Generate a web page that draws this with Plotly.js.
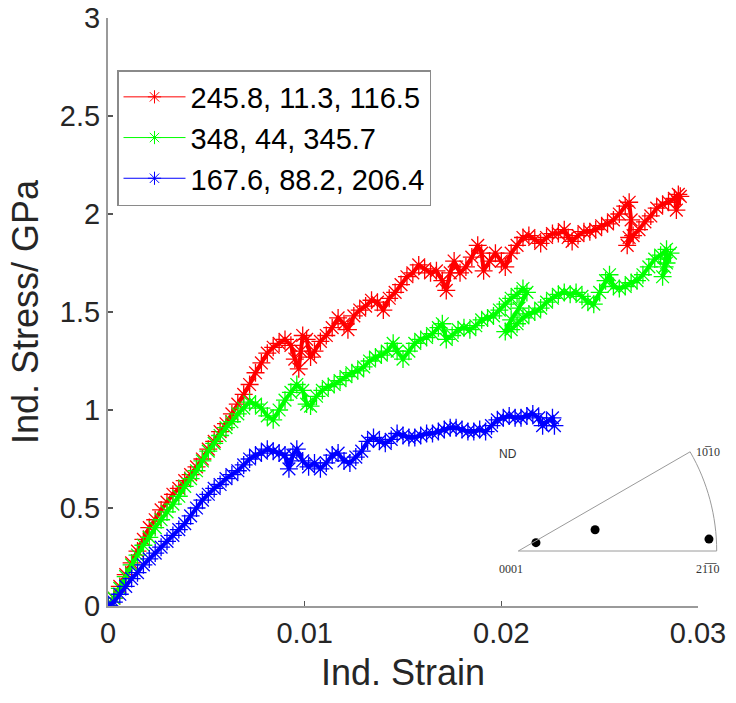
<!DOCTYPE html>
<html><head><meta charset="utf-8">
<script src="https://cdn.plot.ly/plotly-3.0.1.min.js"></script>
<style>html,body{margin:0;padding:0;background:#fff}#c{width:736px;height:703px}</style>
</head><body><div id="c"></div>
<script>
// Series 1: 245.8, 11.3, 116.5
const redStrain = [0,0.0003,0.0006,0.0009,0.0012,0.0015,0.0018,0.0021,0.0024,0.0027,0.0030,0.0033,0.0036,0.0039,0.0042,0.0045,0.0048,0.0051,0.0054,0.0057,0.0060,0.0063,0.0066,0.0069,0.0072,0.0075,0.0078,0.0081,0.0084,0.0087,0.0090,0.0093,0.0095,0.0097,0.0098,0.0099,0.0101,0.0103,0.0105,0.0108,0.0111,0.0114,0.0117,0.0120,0.0122,0.0125,0.0128,0.0131,0.0134,0.0137,0.0140,0.0143,0.0146,0.0149,0.0152,0.0155,0.0158,0.0161,0.0164,0.0167,0.0170,0.0172,0.0174,0.0176,0.0179,0.0182,0.0185,0.0188,0.0190,0.0191,0.0194,0.0197,0.0200,0.0202,0.0205,0.0208,0.0211,0.0214,0.0217,0.0220,0.0223,0.0226,0.0229,0.0232,0.0234,0.0236,0.0239,0.0242,0.0245,0.0248,0.0251,0.0254,0.0257,0.0260,0.0263,0.0265,0.0266,0.0265,0.0264,0.0267,0.0270,0.0273,0.0276,0.0279,0.0282,0.0285,0.0288,0.0290,0.0289,0.0291];
const redStress = [0,0.04,0.10,0.16,0.22,0.28,0.34,0.40,0.44,0.49,0.53,0.57,0.60,0.64,0.67,0.71,0.75,0.80,0.84,0.89,0.93,0.98,1.03,1.08,1.13,1.19,1.24,1.29,1.32,1.34,1.36,1.33,1.26,1.21,1.30,1.38,1.36,1.27,1.30,1.35,1.38,1.42,1.47,1.44,1.41,1.48,1.51,1.53,1.56,1.55,1.51,1.57,1.60,1.64,1.68,1.70,1.74,1.72,1.70,1.71,1.66,1.61,1.70,1.76,1.70,1.73,1.78,1.84,1.80,1.71,1.76,1.80,1.76,1.73,1.80,1.84,1.88,1.89,1.87,1.85,1.88,1.90,1.90,1.92,1.88,1.86,1.89,1.91,1.91,1.92,1.94,1.95,1.97,2.00,2.04,2.06,1.97,1.88,1.84,1.89,1.92,1.96,1.99,2.03,2.05,2.06,2.08,2.10,2.02,2.09];

// Series 2: 348, 44, 345.7
const greenStrain = [0,0.0003,0.0006,0.0009,0.0012,0.0015,0.0018,0.0021,0.0024,0.0027,0.0030,0.0033,0.0036,0.0039,0.0042,0.0045,0.0048,0.0051,0.0054,0.0057,0.0060,0.0063,0.0066,0.0069,0.0072,0.0075,0.0078,0.0081,0.0084,0.0087,0.0090,0.0093,0.0096,0.0099,0.0101,0.0103,0.0106,0.0109,0.0112,0.0115,0.0118,0.0121,0.0124,0.0127,0.0130,0.0133,0.0136,0.0139,0.0142,0.0145,0.0147,0.0150,0.0153,0.0156,0.0159,0.0162,0.0165,0.0168,0.0170,0.0172,0.0175,0.0178,0.0181,0.0184,0.0187,0.0190,0.0193,0.0196,0.0199,0.0202,0.0205,0.0208,0.0211,0.0213,0.0209,0.0205,0.0202,0.0205,0.0208,0.0211,0.0214,0.0217,0.0220,0.0223,0.0226,0.0229,0.0232,0.0235,0.0238,0.0241,0.0244,0.0247,0.0250,0.0253,0.0255,0.0257,0.0260,0.0263,0.0266,0.0269,0.0272,0.0275,0.0278,0.0281,0.0284,0.0283,0.0282,0.0284,0.0286];
const greenStress = [0,0.04,0.09,0.15,0.21,0.26,0.31,0.35,0.40,0.44,0.48,0.52,0.56,0.61,0.65,0.69,0.74,0.79,0.83,0.87,0.91,0.94,0.98,1.01,1.04,1.03,1.01,0.97,0.95,1.00,1.05,1.09,1.13,1.10,1.03,1.02,1.07,1.10,1.12,1.13,1.15,1.17,1.19,1.20,1.22,1.25,1.27,1.28,1.30,1.34,1.30,1.26,1.30,1.34,1.36,1.37,1.39,1.42,1.44,1.36,1.38,1.41,1.42,1.41,1.43,1.46,1.47,1.48,1.51,1.54,1.57,1.59,1.62,1.60,1.52,1.46,1.40,1.41,1.44,1.47,1.49,1.50,1.52,1.55,1.57,1.59,1.60,1.59,1.60,1.58,1.55,1.54,1.60,1.66,1.69,1.63,1.62,1.63,1.65,1.66,1.69,1.73,1.77,1.79,1.82,1.73,1.68,1.75,1.80];

// Series 3: 167.6, 88.2, 206.4
const blueStrain = [0,0.0003,0.0006,0.0009,0.0012,0.0015,0.0018,0.0021,0.0024,0.0027,0.0030,0.0033,0.0036,0.0039,0.0042,0.0045,0.0048,0.0051,0.0054,0.0057,0.0060,0.0063,0.0066,0.0069,0.0072,0.0075,0.0078,0.0081,0.0084,0.0087,0.0090,0.0092,0.0094,0.0096,0.0099,0.0102,0.0105,0.0108,0.0111,0.0114,0.0117,0.0120,0.0123,0.0126,0.0129,0.0132,0.0135,0.0138,0.0141,0.0144,0.0147,0.0150,0.0153,0.0156,0.0159,0.0162,0.0165,0.0168,0.0171,0.0174,0.0177,0.0180,0.0183,0.0186,0.0189,0.0192,0.0195,0.0198,0.0201,0.0204,0.0207,0.0210,0.0213,0.0216,0.0219,0.0221,0.0223,0.0226,0.0227];
const blueStress = [0,0.02,0.06,0.10,0.14,0.17,0.21,0.24,0.27,0.30,0.33,0.36,0.39,0.42,0.46,0.50,0.54,0.57,0.60,0.62,0.65,0.67,0.69,0.72,0.75,0.77,0.78,0.80,0.79,0.78,0.77,0.70,0.77,0.80,0.74,0.71,0.73,0.70,0.73,0.77,0.78,0.74,0.73,0.76,0.79,0.84,0.86,0.84,0.83,0.85,0.88,0.87,0.86,0.86,0.87,0.88,0.88,0.89,0.90,0.91,0.91,0.90,0.89,0.89,0.90,0.89,0.92,0.95,0.96,0.97,0.96,0.96,0.97,0.98,0.96,0.92,0.94,0.96,0.92];

const seriesNames = ['245.8, 11.3, 116.5', '348, 44, 345.7', '167.6, 88.2, 206.4'];
const seriesColors = ['#ff0000', '#00ff00', '#0000ff'];

// Inset inverse pole figure: ND positions (stereographic x, y)
const ipfX = [0.089, 0.387, 0.961];
const ipfY = [0.042, 0.107, 0.060];
const ipfLabels = ['ND', '10\u030510', '0001', '21\u03051\u03050'];
const ipfLabelX = [-0.052, 0.956, -0.037, 0.956];
const ipfLabelY = [0.489, 0.499, -0.091, -0.091];

const xTicks = [0, 0.01, 0.02, 0.03];
const yTicks = [0, 0.5, 1, 1.5, 2, 2.5, 3];

const font = 'Liberation Sans, Arial, Helvetica, sans-serif';
const xs = [redStrain, greenStrain, blueStrain];
const ys = [redStress, greenStress, blueStress];

const traces = xs.map((x, i) => ({
  type: 'scatter', mode: 'lines+markers', x: x, y: ys[i], name: seriesNames[i], showlegend: false,
  line: {color: seriesColors[i], width: 4},
  marker: {symbol: 'asterisk-open', size: 15, color: seriesColors[i], line: {color: seriesColors[i], width: 1.3}},
  xaxis: 'x', yaxis: 'y', hoverinfo: 'skip'
}));
// legend entries (thin line + asterisk, as in the reference key)
seriesNames.forEach((n, i) => traces.push({
  type: 'scatter', mode: 'lines+markers', x: [null], y: [null], name: n, showlegend: true,
  line: {color: seriesColors[i], width: 1},
  marker: {symbol: 'asterisk-open', size: 11, color: seriesColors[i], line: {color: seriesColors[i], width: 1}},
  xaxis: 'x', yaxis: 'y'
}));
traces.push({
  type: 'scatter', mode: 'markers', x: ipfX, y: ipfY, showlegend: false,
  marker: {color: '#000', size: 9}, xaxis: 'x2', yaxis: 'y2', hoverinfo: 'skip'
});

const W = 736, H = 703, L = 108, R = 0, T = 18, B = 97;
const pw = W - L - R;
const mainRight = 698;
const px2 = p => (p - L) / pw;
const py2 = p => (H - B - p) / (H - T - B);

const annotations = ipfLabels.map((t, i) => ({
  text: t, x: ipfLabelX[i], y: ipfLabelY[i], xref: 'x2', yref: 'y2', showarrow: false,
  font: {family: i === 0 ? font : 'Liberation Serif, Times New Roman, serif', size: 12, color: '#333'}
}));

const layout = {
  width: W, height: H,
  margin: {l: L, r: R, t: T, b: B},
  paper_bgcolor: '#fff', plot_bgcolor: 'rgba(0,0,0,0)',
  showlegend: true,
  legend: {
    x: px2(117), y: py2(70), xanchor: 'left', yanchor: 'top',
    bgcolor: '#fff', bordercolor: '#8a8a8a', borderwidth: 1.5,
    font: {family: font, size: 29, color: '#000'},
    itemwidth: 62, traceorder: 'normal'
  },
  xaxis: {
    domain: [0, px2(mainRight)], range: [0, 0.03], tickvals: xTicks,
    showgrid: false, zeroline: false, showline: true, linecolor: '#9a9a9a', linewidth: 2,
    ticks: 'inside', ticklen: 5, tickwidth: 1.5, tickcolor: '#555',
    tickfont: {family: font, size: 29, color: '#262626'},
    title: {text: 'Ind. Strain', font: {family: font, size: 36, color: '#262626'}, standoff: 12},
    anchor: 'y', fixedrange: true
  },
  yaxis: {
    domain: [0, 1], range: [0, 3], tickvals: yTicks,
    showgrid: false, zeroline: false, showline: true, linecolor: '#9a9a9a', linewidth: 2,
    ticks: 'inside', ticklen: 5, tickwidth: 1.5, tickcolor: '#555',
    tickfont: {family: font, size: 29, color: '#262626'},
    title: {text: 'Ind. Stress/ GPa', font: {family: font, size: 36, color: '#262626'}, standoff: 10},
    anchor: 'x', fixedrange: true
  },
  xaxis2: {
    domain: [px2(498.5), 1], range: [-0.0998, 1.0973], visible: false, anchor: 'y2', fixedrange: true
  },
  yaxis2: {
    domain: [py2(580), py2(440)], range: [-0.1462, 0.5595], visible: false, anchor: 'x2', fixedrange: true
  },
  shapes: [{
    type: 'path', xref: 'x2', yref: 'y2',
    path: 'M 0,0 L 1,0 C 1,0.1755 0.9538,0.348 0.866,0.5 Z',
    line: {color: '#9a9a9a', width: 1}, fillcolor: 'rgba(0,0,0,0)'
  }],
  annotations: annotations
};

Plotly.newPlot('c', traces, layout, {displayModeBar: false, staticPlot: true});
</script>
</body></html>
